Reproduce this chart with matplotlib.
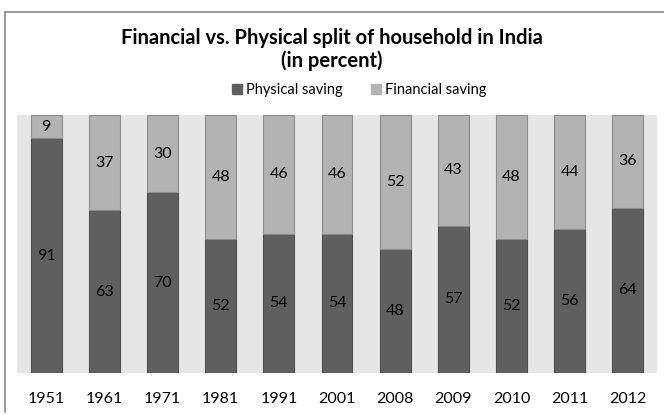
import matplotlib
matplotlib.use("Agg")
import matplotlib.pyplot as plt
from matplotlib.lines import Line2D
import numpy as np

years = ["1951", "1961", "1971", "1981", "1991", "2001", "2008", "2009", "2010", "2011", "2012"]
physical = [91, 63, 70, 52, 54, 54, 48, 57, 52, 56, 64]
financial = [9, 37, 30, 48, 46, 46, 52, 43, 48, 44, 36]

plt.rcParams['font.family'] = ['Lato', 'DejaVu Sans']

W, H = 664, 415
fig = plt.figure(figsize=(W / 100, H / 100), dpi=100)
fig.patch.set_facecolor("white")

# plot area in pixel coordinates
left, right, top, bottom = 17, 657, 115, 373
ax = fig.add_axes([left / W, 1 - bottom / H, (right - left) / W, (bottom - top) / H])
ax.set_facecolor("#e6e6e6")

x = np.arange(len(years))
bw = 0.53
dark, light = "#5f5f5f", "#b3b3b3"
ax.bar(x, physical, bw, color=dark, edgecolor="#4d4d4d", linewidth=0.8)
ax.bar(x, financial, bw, bottom=physical, color=light, edgecolor="#8c8c8c", linewidth=0.8)

for xi, p, f in zip(x, physical, financial):
    ax.text(xi, p / 2, str(p), ha="center", va="center", fontsize=11.5, color="black")
    ax.text(xi, p + f / 2, str(f), ha="center", va="center", fontsize=11.5, color="black")

ax.set_xlim(-0.5, len(years) - 0.5)
ax.set_ylim(0, 100)
ax.set_yticks([])
ax.set_xticks(x)
ax.set_xticklabels(years, fontsize=11.5)
ax.tick_params(axis="x", length=0, pad=14)
for s in ax.spines.values():
    s.set_visible(False)

# title
fig.text(0.5, 1 - 38 / H, "Financial vs. Physical split of household in India",
         ha="center", va="center", fontsize=14.5, fontweight="bold")
fig.text(0.5, 1 - 61 / H, "(in percent)", ha="center", va="center",
         fontsize=14.5, fontweight="bold")

# legend
handles = [Line2D([], [], marker="s", linestyle="none", markersize=7.5,
                  markerfacecolor=dark, markeredgecolor=dark),
           Line2D([], [], marker="s", linestyle="none", markersize=7.5,
                  markerfacecolor=light, markeredgecolor=light)]
fig.legend(handles, ["Physical saving", "Financial saving"], loc="center",
           bbox_to_anchor=(358 / W, 1 - 90 / H), ncol=2, frameon=False,
           fontsize=10.5, handletextpad=0.1, columnspacing=1.8, handlelength=1.0)

# outer chart frame
fig.add_artist(Line2D([5 / W, 1], [1 - 12 / H, 1 - 12 / H], color="#8a8a8a", linewidth=1.2))
fig.add_artist(Line2D([5 / W, 5 / W], [1 - 12 / H, 1 - 412 / H], color="#8a8a8a", linewidth=1.2))

fig.savefig("out.png", dpi=100)
